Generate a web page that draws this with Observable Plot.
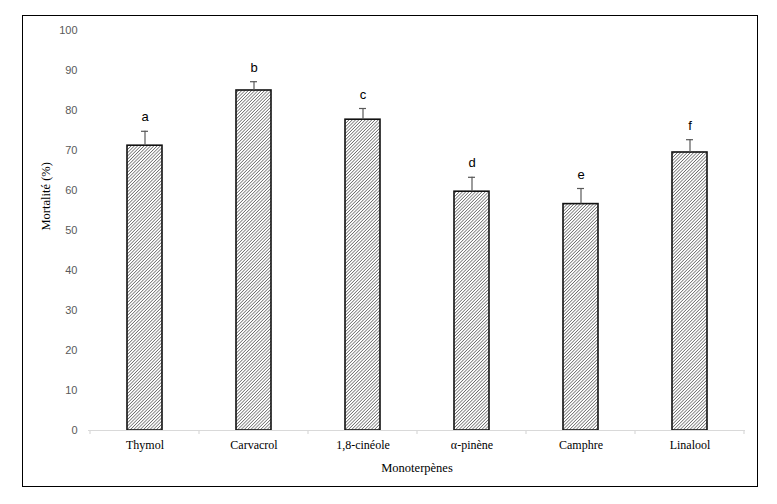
<!DOCTYPE html>
<html>
<head>
<meta charset="utf-8">
<script src="https://cdn.jsdelivr.net/npm/d3@7"></script>
<script src="https://cdn.jsdelivr.net/npm/@observablehq/plot@0.6"></script>
<style>
  html, body { margin: 0; padding: 0; background: #fff; }
  #wrap { position: relative; width: 777px; height: 504px; }
  #frame { position: absolute; left: 22px; top: 15px; width: 734px; height: 470px; border: 1.5px solid #000; pointer-events: none; }
  #chart { position: absolute; left: 0; top: 0; }
</style>
</head>
<body>
<div id="wrap"><div id="chart"></div><div id="frame"></div></div>
<script>
const categories = ["Thymol", "Carvacrol", "1,8-cinéole", "α-pinène", "Camphre", "Linalool"];
const means = [71.2, 85.0, 77.7, 59.7, 56.6, 69.5];
const errors = [3.6, 2.2, 2.8, 3.6, 3.9, 3.2];
const letters = ["a", "b", "c", "d", "e", "f"];
const yTicks = [0, 10, 20, 30, 40, 50, 60, 70, 80, 90, 100];

const data = categories.map((c, i) => ({cat: c, mean: means[i], err: errors[i], top: means[i] + errors[i], letter: letters[i]}));

const plot = Plot.plot({
  width: 777,
  height: 504,
  marginLeft: 88,
  marginRight: 32,
  marginTop: 30,
  marginBottom: 74,
  style: {background: "transparent", overflow: "visible"},
  x: {domain: categories, padding: 0, label: null},
  y: {domain: [0, 100], label: null},
  marks: [
    Plot.barY(data, {x: "cat", y: "mean", fill: "url(#hatch)", stroke: "#111", strokeWidth: 1.6, insetLeft: 37, insetRight: 37}),
    Plot.ruleY([0], {stroke: "#d9d9d9", strokeWidth: 1.2}),
    Plot.ruleX(data, {x: "cat", y1: "mean", y2: "top", stroke: "#595959", strokeWidth: 1.2}),
    Plot.tickY(data, {x: "cat", y: "top", stroke: "#595959", strokeWidth: 1.2, insetLeft: 51, insetRight: 51}),
    Plot.text(data, {x: "cat", y: "top", text: "letter", dy: -14, fontSize: 13, fill: "#000", fontFamily: "Liberation Sans, Arial, sans-serif"}),
    Plot.axisY({ticks: yTicks, tickSize: 0, tickPadding: 11, fill: "#595959", fontSize: 11, fontFamily: "Liberation Sans, Arial, sans-serif", label: null}),
    Plot.axisX({tickSize: 0, tickPadding: 10, fontSize: 12, fill: "#000", fontFamily: "Liberation Serif, Times New Roman, serif", label: null}),
    Plot.text(["Monoterpènes"], {frameAnchor: "bottom", dy: 41, fontSize: 12.5, fill: "#000", fontFamily: "Liberation Serif, Times New Roman, serif"}),
    Plot.text(["Mortalité (%)"], {frameAnchor: "left", dx: -43, rotate: -90, fontSize: 12.5, fill: "#000", fontFamily: "Liberation Serif, Times New Roman, serif"})
  ]
});

// hatch pattern definition
const svg = d3.select(plot);
const defs = svg.insert("defs", ":first-child");
const P = 2.3;
const pat = defs.append("pattern")
  .attr("id", "hatch")
  .attr("patternUnits", "userSpaceOnUse")
  .attr("width", P)
  .attr("height", P)
  .attr("patternTransform", "rotate(45)");
pat.append("rect").attr("width", P).attr("height", P).attr("fill", "#fff");
pat.append("line").attr("x1", 0).attr("y1", 0).attr("x2", 0).attr("y2", P)
  .attr("stroke", "#333").attr("stroke-width", 1.1);

// category boundary ticks on the x axis, from the library's band scale
const xs = plot.scale("x");
const ys = plot.scale("y");
const step = xs.step;
const y0 = ys.apply(0);
const bounds = categories.map(c => xs.apply(c)).concat([xs.apply(categories[categories.length - 1]) + step]);
svg.append("g").selectAll("line").data(bounds).join("line")
  .attr("x1", d => d).attr("x2", d => d)
  .attr("y1", y0).attr("y2", y0 + 4)
  .attr("stroke", "#d9d9d9").attr("stroke-width", 1.2);

document.getElementById("chart").appendChild(plot);
</script>
</body>
</html>
